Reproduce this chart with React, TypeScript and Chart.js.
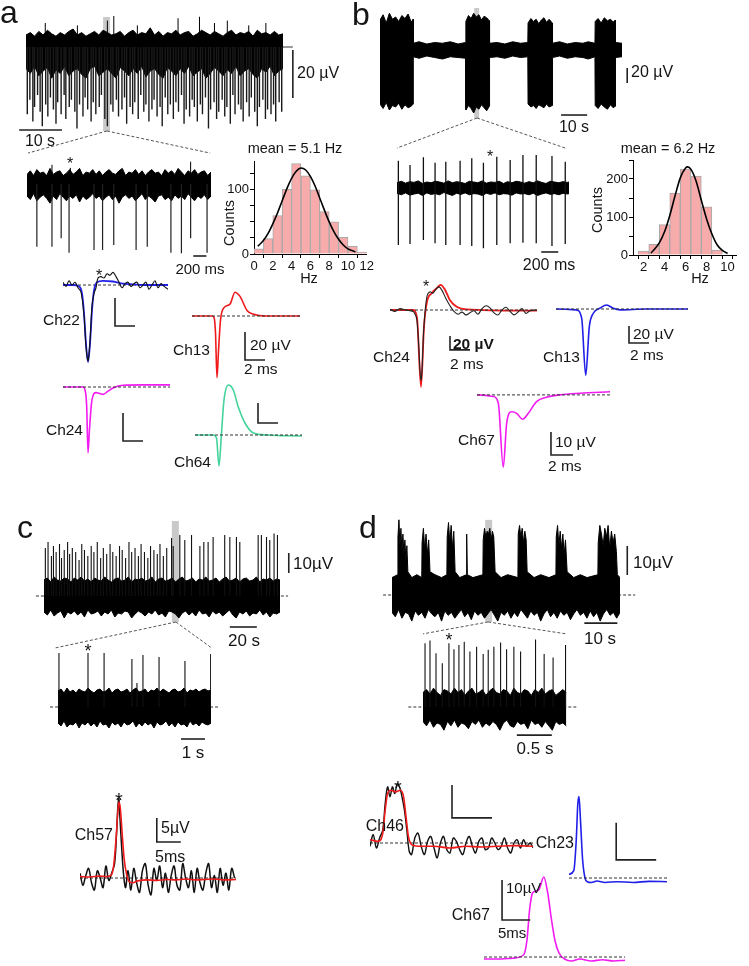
import React, { useEffect, useRef } from 'react';
import { Chart, registerables } from 'chart.js';

Chart.register(...registerables);
const FONT = 'Arial, "Liberation Sans", Helvetica, sans-serif';
Chart.defaults.font.family = FONT;
Chart.defaults.color = '#111';

// ---------------- DATA ----------------
// panel a – raw trace (time s, µV)
const aEnvT = [0,1,2,3,4,5,6,7,8,9,10,11,12,13,14,15,16,17,18,19,20,21,22,23,24,25,26,27,28,29,30,31,32,33,34,35,36,37,38,39,40,41,42,43,44,45,46,47,48,49,50,51,52,53,54,55,56,57,58,59,60];
const aUp = [5,6,4.5,6.5,5,7,5.5,4.5,6,5,6.5,7.5,5,6,4.5,5.5,6.5,5,7,6,5,5.5,6.5,4.5,6,7,5,6,5.5,8,5,6.5,4.5,6,5.5,7,5,6,6.5,4.5,5.5,7,6,5,6.5,5.5,4.5,6,7,5,6,5.5,6.5,4.5,7,5.5,6,5,6.5,5,5.5];
const aLo = [-9,-11,-8,-12,-10,-8.5,-13,-9.5,-11,-8,-12,-10,-9,-11.5,-13,-9,-8,-12,-10.5,-9,-11,-13,-8.5,-10,-12,-9,-11,-8,-12.5,-10,-9,-11.5,-13,-8.5,-10,-12,-9,-11,-8,-12,-10.5,-9,-13,-11,-8.5,-10,-12,-9.5,-11,-8,-12,-10,-9,-11.5,-13,-9,-10.5,-8,-12,-10,-9];
const aDnT = [0.3,0.9,1.6,2.0,2.7,3.3,3.8,4.6,5.1,5.7,6.4,7.0,7.4,8.2,8.9,9.3,10.1,10.6,11.4,11.9,12.5,13.3,13.8,14.4,15.2,15.7,16.3,17.1,17.6,18.4,19.0,19.8,20.3,21.1,21.6,22.4,23.0,23.5,24.3,24.9,25.4,26.2,26.8,27.5,28.0,28.7,29.4,29.9,30.6,31.3,31.8,32.5,33.1,33.7,34.4,35.0,35.6,36.3,36.9,37.4,38.2,38.8,39.3,40.0,40.7,41.2,41.9,42.6,43.1,43.9,44.5,45.0,45.8,46.4,46.9,47.7,48.3,48.8,49.6,50.2,50.7,51.5,52.1,52.6,53.4,54.0,54.5,55.3,55.9,56.4,57.2,57.8,58.3,59.1,59.7];
const aDnV = [-28,-22,-31,-25,-20,-27,-33,-24,-29,-21,-26,-32,-23,-28,-20,-30,-25,-22,-27,-34,-24,-29,-21,-26,-31,-23,-28,-25,-20,-30,-33,-24,-27,-22,-29,-26,-21,-32,-25,-28,-23,-30,-20,-27,-24,-31,-26,-22,-29,-25,-33,-21,-28,-24,-30,-23,-27,-20,-32,-26,-29,-22,-25,-31,-24,-28,-21,-34,-26,-23,-30,-27,-22,-29,-25,-32,-20,-28,-24,-26,-31,-23,-29,-21,-27,-33,-25,-22,-30,-26,-28,-24,-31,-23,-27];
const aUpT = [4.5,12,19,20.5,26,35.5,40.5,44,47,52,56];
const aUpV = [10,9,11,13,9,12,12.6,10,11,9,10];
// panel a – zoomed trace
const azT = [0,0.05,0.1,0.15,0.2,0.25,0.3,0.35,0.4,0.45,0.5,0.55,0.6,0.65,0.7,0.75,0.8,0.85,0.9,0.95,1,1.05,1.1,1.15,1.2,1.25,1.3,1.35,1.4,1.45,1.5,1.55,1.6,1.65,1.7,1.75,1.8,1.85,1.9,1.95,2,2.05,2.1,2.15,2.2,2.25,2.3,2.35,2.4,2.45,2.5,2.55,2.6,2.65,2.7,2.75,2.8];
const azUp = [4,5.5,3.5,6,4.5,5,3.5,6.5,4,5,5.5,3.5,4.5,6,4,5,6.5,3.5,5,4.5,6,4,5.5,3.5,5,6,4.5,4,5.5,6.5,3.5,5,4.5,6,4,5.5,3.5,5,6,4.5,5,3.5,6,4.5,5.5,4,6.5,5,3.5,5.5,4.5,6,4,5,5.5,3.5,5];
const azLo = [-5,-6.5,-4,-7,-5.5,-4.5,-6,-8,-5,-6.5,-4,-5.5,-7,-5,-6,-4.5,-7.5,-5,-6.5,-5.5,-4,-6,-5,-7,-5.5,-4.5,-6.5,-5,-8,-5.5,-4.5,-6,-5,-7,-5.5,-4,-6.5,-5,-6,-7.5,-5,-4.5,-6.5,-5.5,-7,-4.5,-6,-5,-6.5,-4,-5.5,-7,-5,-6,-4.5,-6.5,-5];
const azDnT = [0.15,0.38,0.52,0.64,1.02,1.15,1.32,1.66,1.83,2.19,2.35,2.49,2.74];
const azDnV = [-26.1,-26.1,-22.6,-28.6,-27.5,-27.5,-25.4,-27.5,-26.1,-28.6,-28.9,-22.6,-28.6];
const azUpT = [0.38,0.66,2.49];
const azUpV = [8,6.7,9.3];
// histograms
const histAX = [0.5,1.5,2.5,3.5,4.5,5.5,6.5,7.5,8.5,9.5,10.5,11.5];
const histAY = [8,24,60,101,141,122,100,66,50,26,12,3];
const fitAX = [0.4,1,1.5,2,2.5,3,3.5,4,4.5,5,5.5,6,6.5,7,7.5,8,8.5,9,9.5,10,10.5,10.8];
const fitAY = [12,21,32,47,64,83,102,118,129,134,131,121,106,87,68,50,35,23,14,8,5,3];
const histBX = [2,3,4,5,6,7,8,9];
const histBY = [10,28,80,163,226,208,127,13];
const fitBX = [2.7,3,3.5,4,4.5,5,5.5,6,6.2,6.5,7,7.5,8,8.5,9,9.5,10];
const fitBY = [5,14,32,61,104,156,203,229,232,226,195,144,95,56,27,12,4];
// panel a – waveforms (ms, µV)
const ch22BlueT = [0,1.0,1.6,1.9,2.1,2.3,2.5,2.7,2.9,3.1,3.4,4,5,6,7,8,9,10.5];
const ch22BlueV = [0,0,-1,-6,-20,-42,-55,-42,-18,-4,2,3,2.5,1,0.5,0,0,0];
const ch22BlkT = [0,0.3,0.6,0.9,1.2,1.5,1.8,2.1,2.3,2.5,2.7,2.9,3.1,3.3,3.5,3.8,4.1,4.4,4.7,5.0,5.3,5.6,5.9,6.2,6.5,6.8,7.1,7.4,7.7,8.0,8.3,8.6,8.9,9.2,9.5,9.8,10.1,10.5];
const ch22BlkV = [2,-1,3,0,2,-2,-5,-22,-44,-54,-40,-15,-6,-2,5,6,5,8,7,9,6,2,-2,1,2,-1,1,2,-2,0,2,-3,0,3,-2,1,-1,-3];
const ch13aT = [0,2.0,2.2,2.35,2.5,2.65,2.85,3.2,3.8,4.3,4.8,5.5,6.1,7.5,10.8];
const ch13aV = [0,0,-1,-12,-44,-25,-3,6,8.5,17,14,4,1.4,0,0];
const ch24aT = [0,2.0,2.2,2.37,2.5,2.65,2.9,3.3,3.6,4.0,4.5,5.0,6.0,8,10.7];
const ch24aV = [0,0,-2,-14,-47,-30,-9,-4,-4.5,-5.3,-3,-0.7,1.2,1.5,1.5];
const ch64T = [0,1.8,2.15,2.4,2.65,2.9,3.33,3.83,4.33,5.0,5.8,7.2,10.7];
const ch64V = [0,0,-3,-31,2,35,50,45,28,12,2.3,0,-1];
// panel b – raw trace
const bT = [0,1.2,2.4,3.6,4.8,6,7.2,8.4,9.6,10.8,12,12.7,12.8,15,18,21,24,27,30,32.9,33,34,35,36,37,38,39,40,41,42,42.1,45,48,51,54,56.8,56.9,58,59,60,61,62,63,64,65,66.2,66.3,69,72,75,78,80,82.6,82.7,83.8,85,86.2,87.4,88.6,89.6,90.4,90.5,93];
const bUp = [40,47,36,49,41,44,38,46,42,48,37,41,9,11,8,10,9,11,8,10,38,46,42,49,44,47,40,45,43,39,9,10,8,11,9,10,36,42,38,41,35,40,43,37,41,36,9,11,8,10,9,11,9,38,42,36,43,39,41,37,40,10,9];
const bLo = [-72,-78,-70,-80,-74,-76,-71,-79,-73,-77,-75,-72,-9,-11,-8,-10,-12,-9,-10,-11,-80,-74,-78,-84,-76,-79,-73,-77,-81,-75,-10,-9,-11,-8,-10,-9,-72,-76,-74,-78,-73,-75,-77,-72,-76,-74,-10,-8,-11,-9,-10,-12,-9,-74,-78,-72,-76,-79,-73,-77,-75,-10,-9];
// panel b – zoomed trace
const bzT = [0,0.05,0.1,0.15,0.2,0.25,0.3,0.35,0.4,0.45,0.5,0.55,0.6,0.65,0.7,0.75,0.8,0.85,0.9,0.95,1,1.05,1.1,1.15,1.2,1.25,1.3,1.35,1.4,1.45,1.5,1.55,1.6,1.65,1.7,1.75,1.8,1.85,1.9,1.95,2,2.02];
const bzUp = [7,9,6.5,8.5,7.5,9.5,6,8,7,9,8,6.5,9.5,7,8.5,7.5,6,9,8,7,9.5,6.5,8,7.5,9,6,8.5,7,9,8,6.5,8.5,7,9.5,7.5,6,9,8,7,8.5,7.5,8];
const bzLo = [-7,-9,-6.5,-9.5,-8,-7,-10,-6.5,-8.5,-7.5,-9,-6,-8,-10,-7,-8.5,-6.5,-9,-7.5,-8,-10,-7,-8.5,-6.5,-9,-7.5,-8,-9.5,-6.5,-8,-7.5,-9,-7,-10,-8,-6.5,-8.5,-7.5,-9,-7,-8,-7.5];
const bzSpT = [0.016,0.153,0.31,0.447,0.573,0.741,0.878,1.015,1.172,1.329,1.479,1.635,1.82,1.976];
const bzSpHi = [36.4,30.7,40.9,33.8,35.1,36.4,39.6,33.8,41.8,37.3,44,44,42.7,35.1];
const bzSpLo = [-76,-74.7,-69.3,-73.8,-76,-76,-77.3,-80.4,-76,-73.8,-72.9,-73.8,-77.3,-74.7];
// panel b – waveforms
const ch24bRedT = [0,2.3,2.7,3.1,3.4,3.7,4.17,4.67,5.07,5.5,6.0,6.67,7.67,14.7];
const ch24bRedV = [0,0,-11,-110,-24,12,24,31,36,29,14,4.7,1,-1];
const ch24bBlkT = [0,0.5,1.0,1.5,2.0,2.4,2.7,3.1,3.4,3.7,4.0,4.3,4.6,4.9,5.2,5.6,6.0,6.4,6.8,7.2,7.6,8.0,8.4,8.8,9.2,9.6,10.0,10.4,10.8,11.2,11.6,12.0,12.4,12.8,13.2,13.6,14.0,14.7];
const ch24bBlkV = [1,-2,2,0,-1,-3,-15,-100,-22,20,26,24,30,33,28,16,6,-2,-6,-3,-7,-4,-1,-6,2,6,3,-4,-7,0,4,-2,-7,-3,2,-5,-1,0];
const ch13bT = [0,2.0,2.57,2.97,3.33,3.73,4.4,5.07,5.73,6.4,9,13.2];
const ch13bV = [0,-1,-11,-78,-21,-5,1,4.7,0.8,-1,0,0];
const ch67bT = [0,1.48,1.94,2.39,2.7,3.15,3.61,4.15,4.67,5.42,6.33,7.55,9.36,12.1];
const ch67bV = [0,-0.7,-3.6,-31.4,-12.3,-7.3,-8,-10.6,-8,-2.9,-1,0,0.7,1.4];
// panel c – raw trace
const cT = [0,2.5,5,7.5,10,12.5,15,17.5,20,22.5,25,27.5,30,32.5,35,37.5,40,42.5,45,47.5,50,52.5,55,57.5,60,62.5,65,67.5,70,72.5,75,77.5,80,82.5,85,87.5,90,92.5,95,97.5,100,102.5,105,107.5,110,112.5,115,117.5,120,122.5,125,127.5,130,132.5,135,137.5,140,142.5,145,147.5,150,152.5,155,157.5,160,162.5,165,167.5,170,172.5,175];
const cUp = [8,9,7,9.5,8,7.5,9,8.5,7,9,8,9.5,7.5,8.5,7,9,8,7.5,9.5,8,7,8.5,9,7.5,8,9.5,7,8.5,8,9,7.5,8,9.5,7,8.5,9,7.5,8,9,7,8.5,9.5,7.5,8,9,7,8.5,8,9.5,7.5,8,9,7,8.5,9.5,7.5,8,9,7,8.5,9,7.5,8,9.5,7,8.5,8,9,7.5,8.5,8];
const cLo = [-8,-9.5,-7,-10,-8.5,-7.5,-11,-8,-9,-7.5,-9.5,-8,-10.5,-7,-9,-8.5,-7.5,-10,-8,-9,-7,-10.5,-8.5,-9,-7.5,-8,-11,-9,-7.5,-8.5,-10,-8,-9,-7,-9.5,-8.5,-10.5,-7.5,-8,-9,-11,-8.5,-7.5,-9.5,-8,-10,-7,-9,-8.5,-10.5,-7.5,-9,-8,-10,-8.5,-7,-9.5,-11,-8,-9,-7.5,-10,-8.5,-9,-7,-9.5,-8,-10.5,-8.5,-9,-8];
const cSpT = [1,3,5.5,7,9,11.5,13,15,17.5,19,21,23.5,26,28,30,32.5,35,37,39.5,42,44,46.5,49,51,53.5,56,58,60.5,63,65,67.5,70,72,74.5,77,79,81.5,84,86,88.5,91,94.6,95.8,100.7,104.4,109.4,115.6,118.5,121.7,125.4,134,137.8,142.7,145.2,158.8,161.2,165,167.4,170.6,173.1];
const cSpV = [24,27,20,25,22,26,19,23,27,21,24,22,18,26,23,20,25,22,27,19,24,21,26,22,20,25,23,19,27,22,24,20,26,22,19,25,23,21,26,20,24,29,25,30.5,28,30.5,25,27,27,29.5,30.5,29.5,29.5,27,30.5,30.5,29.5,28,31.3,30.5];
// panel c – zoomed trace
const czT = [0,0.125,0.25,0.375,0.5,0.625,0.75,0.875,1,1.125,1.25,1.375,1.5,1.625,1.75,1.875,2,2.125,2.25,2.375,2.5,2.625,2.75,2.875,3,3.125,3.25,3.375,3.5,3.625,3.75,3.875,4,4.125,4.25,4.375,4.5,4.625,4.75,4.875,5,5.125,5.25,5.375,5.5,5.625,5.75,5.875,6,6.125,6.25,6.375];
const czUp = [8,9,7,9.5,7.5,8.5,7,9,8,7.5,9.5,8,7,8.5,9,7.5,8,9.5,7,8.5,9,7.5,8,9,7,8.5,9.5,7.5,8,9,7,8.5,8,9.5,7.5,9,8,7,8.5,9,7.5,8,9.5,7,8.5,8,9,7.5,8.5,9,8,8.5];
const czLo = [-8,-9.5,-7,-10,-8.5,-9,-7.5,-10.5,-8,-9,-7.5,-9.5,-8,-10,-7,-9,-8.5,-10.5,-7.5,-9,-8,-10,-7.5,-9,-8.5,-7,-10,-8,-9.5,-7.5,-9,-8,-10.5,-7.5,-9,-8.5,-7,-9.5,-8,-10,-7.5,-9,-8.5,-10,-7,-9,-8,-9.5,-7.5,-8.5,-9,-8];
const czSpT = [0.04,1.25,1.92,3.08,3.29,3.54,4.21,5.29,6.36];
const czSpV = [27,27,27,24,12,26,25,23,26.5];
// panel c – waveform Ch57
const ch57RedT = [0,2,4,5.5,6.5,7.0,7.5,7.9,8.1,8.4,8.8,9.2,9.7,10.3,11,12,14,16,18,20,22,24,26,28,30,32.5];
const ch57RedV = [0.3,0.2,0.4,0.3,0.6,2.5,8,14,15.8,14.5,9,4,0.8,-0.8,-1,-0.6,-0.4,-0.5,-0.3,-0.4,-0.2,-0.4,-0.3,-0.2,-0.4,-0.3];
const ch57BlkT = [0,0.6,1.2,1.8,2.4,3.0,3.6,4.2,4.8,5.4,6.0,6.6,7.2,7.6,7.9,8.1,8.3,8.7,9.1,9.5,10.0,10.6,11.2,11.8,12.4,13.0,13.6,14.2,14.8,15.4,16.0,16.6,17.2,17.8,18.4,19.0,19.6,20.2,20.8,21.4,22.0,22.6,23.2,23.8,24.4,25.0,25.6,26.2,26.8,27.4,28.0,28.6,29.2,29.8,30.4,31.0,31.6,32.2];
const ch57BlkV = [1,-1.5,0.5,2,-1,-2.5,1.5,0,-2,2.5,-0.5,1,3,9,15,16.5,13,6,0.5,-2,1.5,-2.5,2,-1,-3,1.5,3,-1.5,-3.5,2,-0.5,2.5,-2,1,-3,0.5,2.5,-1.5,-2.5,3,0,-2,1.5,-3,2,-1,-2.5,1,3,-2,0.5,-3,2,-1.5,1,-2.5,2,0];
// panel d – raw trace
const dUpT = [0,1.7,1.8,2.1,2.4,2.7,3.0,3.3,3.6,3.9,4.2,4.5,4.8,6,7.5,9.0,9.1,9.5,9.9,10.3,10.7,11.1,11.5,13,15,16.6,16.7,17.1,17.5,17.9,18.3,18.7,19.1,20.5,22.5,22.6,22.8,24.5,27.5,27.6,28.0,28.4,28.8,29.2,29.6,30.0,30.4,30.8,31.2,33,35,38.1,38.2,38.6,39.0,39.4,39.8,40.2,40.6,40.9,43,45,47.5,49.6,49.7,50.1,50.5,50.9,51.3,51.7,52.1,52.5,53.0,55,57,59,62.3,62.4,62.9,63.4,63.9,64.4,64.9,65.4,65.9,66.4,66.9,67.4,67.9,68.2,69];
const dUpV = [6,7,20,26,17,23,15,21,14,19,12,17,8,6,7,6,18,23,16,21,14,19,8,7,6,7,20,25,18,24,16,22,8,6,7,21,7,6,7,19,23,20,22,21,23,19,22,20,8,6,7,6,21,24,20,23,18,22,19,8,6,7,6,7,20,24,17,22,16,21,14,19,8,6,7,6,7,18,24,21,17,23,20,24,16,22,18,21,15,7,6];
const dLoT = [0,1,2,3,4,5,6,7,8,9,10,11,12,13,14,15,16,17,18,19,20,21,22,23,24,25,26,27,28,29,30,31,32,33,34,35,36,37,38,39,40,41,42,43,44,45,46,47,48,49,50,51,52,53,54,55,56,57,58,59,60,61,62,63,64,65,66,67,68,69];
const dLoV = [-6,-7.5,-5,-8,-6,-6.5,-9,-5.5,-7,-6,-8,-5,-6.5,-7.5,-6,-9,-5.5,-7,-6,-8,-6.5,-5,-7.5,-6,-8.5,-5.5,-7,-6,-8,-6.5,-5,-7,-9,-6,-7,-5.5,-8,-6,-7.5,-5,-6.5,-8,-5.5,-7,-6,-9,-6.5,-5,-7.5,-6,-8,-5.5,-7,-6,-8.5,-6.5,-5,-7,-6,-8,-5.5,-7.5,-6,-9,-6.5,-5,-7,-6,-8,-6];
// panel d – zoomed trace
const dzT = [0,0.05,0.1,0.15,0.2,0.25,0.3,0.35,0.4,0.45,0.5,0.55,0.6,0.65,0.7,0.75,0.8,0.85,0.9,0.95,1,1.05,1.1,1.15,1.2,1.25,1.3,1.35,1.4,1.45,1.5,1.55,1.6,1.65,1.7,1.75,1.8,1.85,1.9,1.95,2,2.05];
const dzUp = [5,6,4.5,6.5,5,4,6,5.5,4.5,6.5,5,6,4,5.5,6.5,4.5,5,6,4,5.5,6.5,5,4.5,6,5.5,4,6.5,5,4.5,6,5.5,4,6,5,6.5,4.5,5.5,6,4,5,6,5];
const dzLo = [-5,-6.5,-4.5,-7,-5.5,-6,-8,-5,-6.5,-4.5,-7,-5.5,-6,-7.5,-5,-6,-4.5,-7,-5.5,-6.5,-5,-6,-8,-5.5,-4.5,-6.5,-7,-5,-6,-5.5,-7.5,-4.5,-6,-5.5,-7,-5,-6.5,-8,-5,-6,-5.5,-6.5];
const dzSpT = [0.029,0.1,0.186,0.276,0.371,0.443,0.514,0.59,0.671,0.767,0.861,0.933,1.014,1.11,1.196,1.3,1.396,1.61,1.733,1.861,2.039];
const dzSpV = [22,22.9,18.5,15.1,22,19.9,21.4,22.5,19.1,20.8,18.3,19.7,20.8,22.2,19.9,20.8,19.1,23.3,18.3,17.1,21.4];
// panel d – waveforms
const ch46RedT = [0,1.0,1.6,1.9,2.2,2.6,3.2,3.8,4.2,4.5,4.8,5.2,6,8,10,12,14,16,18,20.4];
const ch46RedV = [1,0.5,3,10,15,16,15.5,16,14,8,2,-0.5,-1,-1,-1.5,-1,-1.2,-1,-0.8,-1];
const ch46BlkT = [0,0.4,0.8,1.2,1.6,1.9,2.2,2.5,2.8,3.1,3.4,3.7,4.0,4.3,4.6,4.9,5.2,5.6,6.0,6.4,6.8,7.2,7.6,8.0,8.4,8.8,9.2,9.6,10.0,10.4,10.8,11.2,11.6,12.0,12.4,12.8,13.2,13.6,14.0,14.4,14.8,15.2,15.6,16.0,16.4,16.8,17.2,17.6,18.0,18.4,18.8,19.2,19.6,20.0,20.4];
const ch46BlkV = [-1,2.5,-1.5,1.5,4,12,17,14,17,15,18,17,14,10,4,-2.5,-3.5,1.5,3,-1,-3.5,0.5,2,-1.5,-4.5,0,2,-2,-3,1.5,0.5,-2,-3.5,0,2,-1,-3,0.5,1.5,-2,-1.5,1.5,0,-2,-1,1.5,-1.5,-3,0,1,-1.5,1,-1,0,-1.5];
const ch23T = [0,0.6,0.9,1.1,1.25,1.45,1.7,2.0,2.3,2.8,3.5,4.5,6,8,10,12.25];
const ch23V = [1,2,10,20,22,15,5,0,-1,-1.2,-0.8,-1.2,-1,-1.2,-0.9,-1];
const ch67dT = [0,3,5,7.0,7.6,8.1,8.6,9.2,9.8,10.6,11.3,12.0,12.6,13.3,14.3,15.5,17,19,21,23,25];
const ch67dV = [-0.5,-0.5,-0.3,0.5,4,12,16,16.5,17,20,16,9,4,1,-0.5,-1,-0.5,-1,-0.7,-1,-0.8];

// ---------------- HELPERS ----------------
type Rect = { x: number; y: number; w: number; h: number };
type P = { x: number; y: number | null };
type Seg = { pts: [number, number][]; color?: string; width?: number; dash?: number[] };
type Band = { x0: number; x1: number; y0: number; y1: number; color: string };
type Spec = { box: Rect; make: () => any };

const pts = (xs: number[], ys: number[]): P[] => {
  const n = Math.min(xs.length, ys.length);
  const out: P[] = [];
  for (let i = 0; i < n; i++) out.push({ x: xs[i], y: ys[i] });
  return out;
};
const spikes = (ts: number[], lo: number[] | number, hi: number[]): P[] => {
  const out: P[] = [];
  const n = Math.min(ts.length, hi.length);
  for (let i = 0; i < n; i++) {
    const l = Array.isArray(lo) ? lo[i] : lo;
    out.push({ x: ts[i], y: l }, { x: ts[i], y: hi[i] }, { x: ts[i], y: null });
  }
  return out;
};
const pad = (box: Rect, a: Rect, dl = 0, db = 0) => ({
  left: a.x - box.x - dl,
  top: a.y - box.y,
  right: box.x + box.w - a.x - a.w,
  bottom: box.y + box.h - a.y - a.h - db,
});
const overlay = (bands: Band[], segs: Seg[]) => ({
  id: 'ov',
  beforeDatasetsDraw(chart: any) {
    const { ctx } = chart;
    const sx = chart.scales.x, sy = chart.scales.y;
    bands.forEach((b) => {
      const x0 = sx.getPixelForValue(b.x0), x1 = sx.getPixelForValue(b.x1);
      const y0 = sy.getPixelForValue(b.y0), y1 = sy.getPixelForValue(b.y1);
      ctx.save();
      ctx.fillStyle = b.color;
      ctx.fillRect(Math.min(x0, x1), Math.min(y0, y1), Math.abs(x1 - x0), Math.abs(y1 - y0));
      ctx.restore();
    });
  },
  afterDatasetsDraw(chart: any) {
    const { ctx } = chart;
    const sx = chart.scales.x, sy = chart.scales.y;
    segs.forEach((s) => {
      ctx.save();
      ctx.beginPath();
      ctx.strokeStyle = s.color ?? '#222';
      ctx.lineWidth = s.width ?? 1.6;
      ctx.setLineDash(s.dash ?? []);
      s.pts.forEach(([x, y], i) => {
        const px = sx.getPixelForValue(x), py = sy.getPixelForValue(y);
        if (i) ctx.lineTo(px, py); else ctx.moveTo(px, py);
      });
      ctx.stroke();
      ctx.restore();
    });
  },
});
const lBar = (x: number, y: number, dx: number, dy: number): Seg => ({ pts: [[x, y + dy], [x, y], [x + dx, y]] });
const vBar = (x: number, y: number, dy: number): Seg => ({ pts: [[x, y + dy], [x, y]] });
const hBar = (x: number, y: number, dx: number): Seg => ({ pts: [[x, y], [x + dx, y]] });
const dots = (p: [number, number][]): Seg => ({ pts: p, color: '#555', width: 1, dash: [3, 2] });

const line = (data: P[], color: string, width = 1.2, extra: any = {}) => ({
  data, borderColor: color, borderWidth: width, pointRadius: 0, fill: false, tension: 0, ...extra,
});
const smooth = (data: P[], color: string, width = 1.6) => line(data, color, width, { cubicInterpolationMode: 'monotone' });
const noisy = (data: P[], color = '#111', width = 1.1) => line(data, color, width, { tension: 0.35 });
const env = (data: P[]) => ({
  data, borderColor: '#000', backgroundColor: '#000', borderWidth: 1, pointRadius: 0, fill: 'origin', tension: 0,
});
const dashBase = (x0: number, x1: number) => ({
  data: [{ x: x0, y: 0 }, { x: x1, y: 0 }], borderColor: '#333', borderWidth: 1, borderDash: [3, 2],
  pointRadius: 0, fill: false, clip: false,
});

function traceSpec(box: Rect, area: Rect, xr: [number, number], yr: [number, number],
  ds: () => any[], bands: Band[] = [], segs: Seg[] = []): Spec {
  return {
    box,
    make: () => ({
      type: 'line',
      data: { datasets: ds() },
      options: {
        animation: false, responsive: false, events: [],
        layout: { padding: pad(box, area) },
        plugins: { legend: { display: false }, tooltip: { enabled: false } },
        elements: { point: { radius: 0 } },
        scales: {
          x: { type: 'linear', display: false, min: xr[0], max: xr[1] },
          y: { type: 'linear', display: false, min: yr[0], max: yr[1] },
        },
      },
      plugins: [overlay(bands, segs)],
    }),
  };
}

const YW = 30; // room kept for y tick labels
const XH = 19; // room kept for x tick labels
function histSpec(box: Rect, area: Rect, xr: [number, number], yr: [number, number], xStep: number, yStep: number,
  xShow: number[], yShow: number[], bx: number[], by: number[], fx: number[], fy: number[]): Spec {
  const axis = (shown: number[], step: number, r: [number, number], fit: (s: any) => void) => ({
    type: 'linear', min: r[0], max: r[1], offset: false,
    grid: { display: true, drawOnChartArea: false, drawTicks: true, tickLength: 4, color: '#000', lineWidth: 1 },
    border: { display: true, color: '#000', width: 1 },
    ticks: {
      stepSize: step, includeBounds: false, autoSkip: false, maxRotation: 0, minRotation: 0, padding: 1, color: '#111',
      font: { size: 13 }, callback: (v: number) => (shown.includes(v) ? String(v) : ''),
    },
    afterFit: fit,
  });
  return {
    box,
    make: () => ({
      type: 'bar',
      data: {
        datasets: [
          { type: 'line', data: pts(fx, fy), borderColor: '#000', borderWidth: 1.6, pointRadius: 0, fill: false, cubicInterpolationMode: 'monotone' },
          { type: 'bar', data: pts(bx, by), backgroundColor: '#f7abab', borderColor: '#a8a8a8', borderWidth: 1, barPercentage: 1, categoryPercentage: 1 },
        ],
      },
      options: {
        animation: false, responsive: false, events: [],
        layout: { padding: pad(box, area, YW, XH) },
        plugins: { legend: { display: false }, tooltip: { enabled: false } },
        scales: {
          x: axis(xShow, xStep, xr, (s: any) => { s.height = XH; }),
          y: axis(yShow, yStep, yr, (s: any) => { s.width = YW; }),
        },
      },
    }),
  };
}

const GRAY = '#c9c9c9';
const BLUE = '#1f1fe8';
const RED = '#f01a1a';
const MAG = '#f21cf2';
const GREEN = '#43d39b';

// ---------------- CHARTS ----------------
const CHARTS: Spec[] = [
  // a raw
  traceSpec({ x: 0, y: 0, w: 372, h: 160 }, { x: 26, y: 15.8, w: 257, h: 115.2 }, [0, 60], [-35, 13],
    () => [line(spikes(aDnT, 0, aDnV), '#1a1a1a', 1.4), line(spikes(aUpT, 0, aUpV), '#000', 1), env(pts(aEnvT, aUp)), env(pts(aEnvT, aLo))],
    [{ x0: 18.0, x1: 19.6, y0: -35, y1: 12.5, color: GRAY }],
    [vBar(62.3, -21.2, 20), hBar(-1.6, -34.6, 10), { pts: [[60, 0], [62.3, 0]], width: 1, color: '#333' },
      dots([[18.9, -35], [0.47, -44.2]]), dots([[18.9, -35], [43, -44.2]])]),
  // a zoom
  traceSpec({ x: 0, y: 150, w: 240, h: 115 }, { x: 27, y: 160, w: 184, h: 96 }, [0, 2.8], [-30, 10],
    () => [line(spikes(azDnT, 0, azDnV), '#222', 1.2), line(spikes(azUpT, 0, azUpV), '#000', 1), env(pts(azT, azUp)), env(pts(azT, azLo))],
    [], [hBar(2.53, -30, 0.2)]),
  // a hist
  histSpec({ x: 215, y: 150, w: 160, h: 125 }, { x: 254, y: 161, w: 113, h: 93 }, [0, 12], [0, 145], 2, 25,
    [0, 2, 4, 6, 8, 10, 12], [0, 100], histAX, histAY, fitAX, fitAY),
  // b hist
  histSpec({ x: 595, y: 150, w: 154, h: 125 }, { x: 633, y: 160, w: 103, h: 95 }, [1, 10.8], [0, 250], 1, 50,
    [2, 4, 6, 8, 10], [0, 100, 200], histBX, histBY, fitBX, fitBY),
  // a Ch22
  traceSpec({ x: 40, y: 262, w: 150, h: 110 }, { x: 63, y: 268.2, w: 105, h: 96.6 }, [0, 10.5], [-57, 12],
    () => [noisy(pts(ch22BlkT, ch22BlkV)), smooth(pts(ch22BlueT, ch22BlueV), BLUE, 1.8), dashBase(0, 10.5)],
    [], [lBar(5.2, -29.3, 2, 20)]),
  // a Ch13
  traceSpec({ x: 185, y: 280, w: 125, h: 105 }, { x: 192, y: 288, w: 108, h: 92.4 }, [0, 10.8], [-46, 20],
    () => [dashBase(0, 10.8), smooth(pts(ch13aT, ch13aV), RED, 1.6)],
    [], [lBar(5.3, -31.4, 2, 20)]),
  // a Ch24
  traceSpec({ x: 55, y: 370, w: 125, h: 90 }, { x: 63, y: 378.6, w: 107, h: 77 }, [0, 10.7], [-49, 6],
    () => [dashBase(0, 10.7), smooth(pts(ch24aT, ch24aV), MAG, 1.6)],
    [], [lBar(6.0, -38.6, 2, 20)]),
  // a Ch64
  traceSpec({ x: 185, y: 375, w: 125, h: 100 }, { x: 195, y: 383, w: 107, h: 85 }, [0, 10.7], [-33, 52],
    () => [dashBase(0, 10.7), smooth(pts(ch64T, ch64V), GREEN, 1.6)],
    [], [lBar(6.3, 12, 2, 20)]),
  // b raw
  traceSpec({ x: 375, y: 0, w: 290, h: 155 }, { x: 380, y: 12.5, w: 242, h: 101.25 }, [0, 93], [-85, 50],
    () => [env(pts(bT, bUp)), env(pts(bT, bLo))],
    [{ x0: 36.2, x1: 38.1, y0: -90.7, y1: 56, color: GRAY }],
    [vBar(95, -44, 20), hBar(69.6, -86.7, 10), dots([[37.3, -90.7], [6.5, -130.7]]), dots([[37.3, -90.7], [71.2, -130.7]])]),
  // b zoom
  traceSpec({ x: 385, y: 145, w: 190, h: 115 }, { x: 397, y: 150.5, w: 172, h: 101.25 }, [0, 2.02], [-85, 50],
    () => [line(spikes(bzSpT, bzSpLo, bzSpHi), '#111', 1.3), env(pts(bzT, bzUp)), env(pts(bzT, bzLo))],
    [], [hBar(1.694, -85.3, 0.2)]),
  // b Ch24
  traceSpec({ x: 380, y: 275, w: 165, h: 120 }, { x: 390, y: 282, w: 147, h: 108.5 }, [0, 14.7], [-115, 40],
    () => [dashBase(0, 14.7), noisy(pts(ch24bBlkT, ch24bBlkV), '#222', 1.1), smooth(pts(ch24bRedT, ch24bRedV), RED, 1.8)],
    [], [lBar(6.0, -57, 2, 20)]),
  // b Ch13
  traceSpec({ x: 545, y: 295, w: 150, h: 90 }, { x: 556, y: 302.2, w: 132, h: 74.8 }, [0, 13.2], [-80, 8],
    () => [dashBase(0, 13.2), smooth(pts(ch13bT, ch13bV), BLUE, 1.6)],
    [], [lBar(7.3, -40, 2, 20)]),
  // b Ch67
  traceSpec({ x: 470, y: 380, w: 150, h: 95 }, { x: 477, y: 388, w: 133, h: 82.8 }, [0, 12.1], [-33, 3],
    () => [dashBase(0, 12.1), smooth(pts(ch67bT, ch67bV), MAG, 1.6)],
    [], [lBar(6.73, -26.1, 2, 10)]),
  // c raw
  traceSpec({ x: 30, y: 515, w: 275, h: 140 }, { x: 44, y: 530, w: 236, h: 92 }, [0, 175], [-13, 33],
    () => [line(spikes(cSpT, 0, cSpV), '#111', 1.1), env(pts(cT, cUp)), env(pts(cT, cLo)), dashBase(-6, 181)],
    [{ x0: 94.8, x1: 100, y0: -13, y1: 37.5, color: GRAY }],
    [vBar(181.5, 11.5, 10), hBar(137.8, -15.5, 20), dots([[97.8, -13], [8.1, -26]]), dots([[97.8, -13], [124.4, -26]])]),
  // c zoom
  traceSpec({ x: 45, y: 640, w: 180, h: 105 }, { x: 58, y: 649, w: 153, h: 82 }, [0, 6.375], [-12, 29],
    () => [line(spikes(czSpT, 0, czSpV), '#111', 1.1), env(pts(czT, czUp)), env(pts(czT, czLo)), dashBase(-0.33, 6.7)],
    [], [hBar(5.125, -16, 1)]),
  // c Ch57
  traceSpec({ x: 70, y: 785, w: 180, h: 125 }, { x: 80, y: 791.6, w: 156, h: 110.4 }, [0, 32.5], [-5, 18],
    () => [smooth(pts(ch57RedT, ch57RedV), RED, 1.6), noisy(pts(ch57BlkT, ch57BlkV), '#111', 1.5), dashBase(0, 32.5)],
    [], [lBar(16.0, 7.5, 5, 5)]),
  // d raw
  traceSpec({ x: 375, y: 510, w: 265, h: 130 }, { x: 392, y: 519.6, w: 228, h: 104.4 }, [0, 69], [-10, 26],
    () => [env(pts(dUpT, dUpV)), env(pts(dLoT, dLoV)), dashBase(-2.7, 73.6)],
    [{ x0: 28.2, x1: 30.3, y0: -9.3, y1: 25.9, color: GRAY }],
    [vBar(71.2, 6.9, 10), hBar(58.2, -9.7, 10), dots([[29.1, -9.3], [9.4, -13.4]]), dots([[29.1, -9.3], [52.7, -13.4]])]),
  // d zoom
  traceSpec({ x: 400, y: 625, w: 185, h: 120 }, { x: 423, y: 634.5, w: 144, h: 101.5 }, [0, 2.06], [-10, 25],
    () => [line(spikes(dzSpT, 0, dzSpV), '#111', 1.1), env(pts(dzT, dzUp)), env(pts(dzT, dzLo)), dashBase(-0.21, 2.22)],
    [], [hBar(1.343, -9.7, 0.5)]),
  // d Ch46
  traceSpec({ x: 360, y: 770, w: 180, h: 110 }, { x: 370, y: 777, w: 163.2, h: 92.4 }, [0, 20.4], [-8, 20],
    () => [smooth(pts(ch46RedT, ch46RedV), RED, 1.6), noisy(pts(ch46BlkT, ch46BlkV), '#111', 1.4), dashBase(0, 20.4)],
    [], [lBar(10.25, 7.6, 5, 10)]),
  // d Ch23
  traceSpec({ x: 560, y: 780, w: 120, h: 115 }, { x: 569, y: 789.2, w: 98, h: 99.9 }, [0, 12.25], [-3, 24],
    () => [dashBase(0, 12.25), smooth(pts(ch23T, ch23V), BLUE, 1.6)],
    [], [lBar(5.9, 4.9, 5, 10)]),
  // d Ch67
  traceSpec({ x: 475, y: 860, w: 160, h: 106 }, { x: 484, y: 869, w: 141, h: 96 }, [0, 25], [-2, 22],
    () => [dashBase(0, 25), smooth(pts(ch67dT, ch67dV), MAG, 1.6)],
    [], [lBar(3.2, 9.25, 5, 10)]),
];

// ---------------- TEXT ----------------
type L = { x: number; y: number; t: string; s?: number; a?: 'l' | 'c' | 'r'; r?: number; b?: boolean };
const LABELS: L[] = [
  { x: 9, y: 12, t: 'a', s: 32, a: 'c' },
  { x: 361, y: 14, t: 'b', s: 32, a: 'c' },
  { x: 25, y: 527, t: 'c', s: 32, a: 'c' },
  { x: 368, y: 527, t: 'd', s: 32, a: 'c' },
  { x: 297, y: 73, t: '20 µV', s: 16 },
  { x: 40, y: 141, t: '10 s', s: 16, a: 'c' },
  { x: 70, y: 164, t: '*', s: 16, a: 'c' },
  { x: 200, y: 268, t: '200 ms', s: 15, a: 'c' },
  { x: 295, y: 148, t: 'mean = 5.1 Hz', s: 14.5, a: 'c' },
  { x: 229, y: 223, t: 'Counts', s: 14.5, a: 'c', r: -90 },
  { x: 309, y: 278, t: 'Hz', s: 14.5, a: 'c' },
  { x: 668, y: 148, t: 'mean = 6.2 Hz', s: 14.5, a: 'c' },
  { x: 597, y: 210, t: 'Counts', s: 14.5, a: 'c', r: -90 },
  { x: 700, y: 278, t: 'Hz', s: 14.5, a: 'c' },
  { x: 80, y: 320, t: 'Ch22', s: 15.5, a: 'r' },
  { x: 99, y: 276, t: '*', s: 16, a: 'c' },
  { x: 210, y: 350, t: 'Ch13', s: 15.5, a: 'r' },
  { x: 250, y: 345, t: '20 µV', s: 15.5 },
  { x: 244, y: 369, t: '2 ms', s: 15.5 },
  { x: 83, y: 430, t: 'Ch24', s: 15.5, a: 'r' },
  { x: 211, y: 462, t: 'Ch64', s: 15.5, a: 'r' },
  { x: 631, y: 72, t: '20 µV', s: 16 },
  { x: 574, y: 127, t: '10 s', s: 16, a: 'c' },
  { x: 490, y: 157, t: '*', s: 16, a: 'c' },
  { x: 549, y: 265, t: '200 ms', s: 16, a: 'c' },
  { x: 426, y: 287, t: '*', s: 16, a: 'c' },
  { x: 410, y: 357, t: 'Ch24', s: 15.5, a: 'r' },
  { x: 453, y: 344, t: '20 µV', s: 15.5, b: true },
  { x: 450, y: 364, t: '2 ms', s: 15.5 },
  { x: 580, y: 357, t: 'Ch13', s: 15.5, a: 'r' },
  { x: 633, y: 334, t: '20 µV', s: 15.5 },
  { x: 630, y: 355, t: '2 ms', s: 15.5 },
  { x: 495, y: 440, t: 'Ch67', s: 15.5, a: 'r' },
  { x: 555, y: 442, t: '10 µV', s: 15.5 },
  { x: 548, y: 466, t: '2 ms', s: 15.5 },
  { x: 293, y: 563, t: '10µV', s: 17 },
  { x: 244, y: 640, t: '20 s', s: 17, a: 'c' },
  { x: 88, y: 651, t: '*', s: 18, a: 'c' },
  { x: 193, y: 752, t: '1 s', s: 17, a: 'c' },
  { x: 119, y: 800, t: '*', s: 20, a: 'c' },
  { x: 113, y: 835, t: 'Ch57', s: 16, a: 'r' },
  { x: 161, y: 828, t: '5µV', s: 16 },
  { x: 155, y: 857, t: '5ms', s: 16 },
  { x: 633, y: 562, t: '10µV', s: 17 },
  { x: 600, y: 638, t: '10 s', s: 17, a: 'c' },
  { x: 449, y: 640, t: '*', s: 18, a: 'c' },
  { x: 535, y: 748, t: '0.5 s', s: 17, a: 'c' },
  { x: 398, y: 788, t: '*', s: 20, a: 'c' },
  { x: 404, y: 826, t: 'Ch46', s: 16, a: 'r' },
  { x: 574, y: 843, t: 'Ch23', s: 16, a: 'r' },
  { x: 490, y: 915, t: 'Ch67', s: 16, a: 'r' },
  { x: 506, y: 887, t: '10µV', s: 15 },
  { x: 498, y: 932, t: '5ms', s: 15 },
];

function ChartBox({ spec }: { spec: Spec }) {
  const ref = useRef<HTMLCanvasElement | null>(null);
  useEffect(() => {
    if (!ref.current) return;
    const ch = new Chart(ref.current, spec.make());
    return () => ch.destroy();
  }, [spec]);
  const b = spec.box;
  return (
    <canvas ref={ref} width={b.w} height={b.h}
      style={{ position: 'absolute', left: b.x, top: b.y, width: b.w, height: b.h }} />
  );
}

function Txt({ l }: { l: L }) {
  const a = l.a ?? 'l';
  const tr = a === 'c' ? 'translate(-50%,-50%)' : a === 'r' ? 'translate(-100%,-50%)' : 'translate(0,-50%)';
  return (
    <div style={{
      position: 'absolute', left: l.x, top: l.y, transform: tr + (l.r ? ` rotate(${l.r}deg)` : ''),
      fontSize: l.s ?? 15, fontWeight: l.b ? 'bold' : 'normal', whiteSpace: 'nowrap', lineHeight: 1,
      fontFamily: FONT, color: '#151515',
    }}>{l.t}</div>
  );
}

export default function App() {
  return (
    <div style={{ position: 'absolute', left: 0, top: 0, width: 749, height: 966, background: '#fff', overflow: 'hidden' }}>
      {CHARTS.map((c, i) => <ChartBox key={i} spec={c} />)}
      {LABELS.map((l, i) => <Txt key={i} l={l} />)}
    </div>
  );
}
